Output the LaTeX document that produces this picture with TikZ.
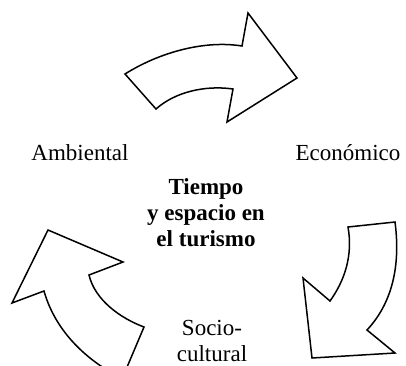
\documentclass[tikz,border=0pt]{standalone}
\usepackage{fontspec}
\setmainfont{Liberation Serif}
\usepackage{tikz}

\tikzset{
  flecha/.style={line width=1.5pt, line join=miter, fill=white},
  etiqueta/.style={font=\fontsize{23}{26}\selectfont, align=center},
}

\begin{document}
\begin{tikzpicture}[x=1pt, y=-1pt]
        \useasboundingbox (0,0) rectangle (406,365);
        \clip (0,0) rectangle (406,365);

        % flecha superior
        \draw[flecha] (125,74) .. controls (160,52) and (205,40) .. (242,46)
            -- (248,13) -- (297,78) -- (227,122) -- (233,89)
            .. controls (205,85) and (175,92) .. (156,109) -- cycle;

        % flecha derecha
        \draw[flecha] (348,227) -- (395,222)
            .. controls (400,260) and (395,300) .. (367,330)
            -- (395,353) -- (312,358) -- (303,278) -- (330,301)
            .. controls (345,280) and (353,255) .. (348,227) -- cycle;

        % flecha izquierda
        \draw[flecha] (123,379) .. controls (85,360) and (55,330) .. (44,291)
            -- (12,303) -- (48,230) -- (123,262) -- (89,275)
            .. controls (95,300) and (120,318) .. (144,327) -- (122,379);

        \node[etiqueta] (amb) at (80,153) {Ambiental};
        \node[etiqueta] (eco) at (348,153) {Económico};
        \node[etiqueta, font=\fontsize{23}{26}\selectfont\bfseries] (centro) at (206,213)
            {Tiempo\\y espacio en\\el turismo};
        \node[etiqueta] (socio) at (212,341) {Socio-\\cultural};
\end{tikzpicture}
\end{document}
